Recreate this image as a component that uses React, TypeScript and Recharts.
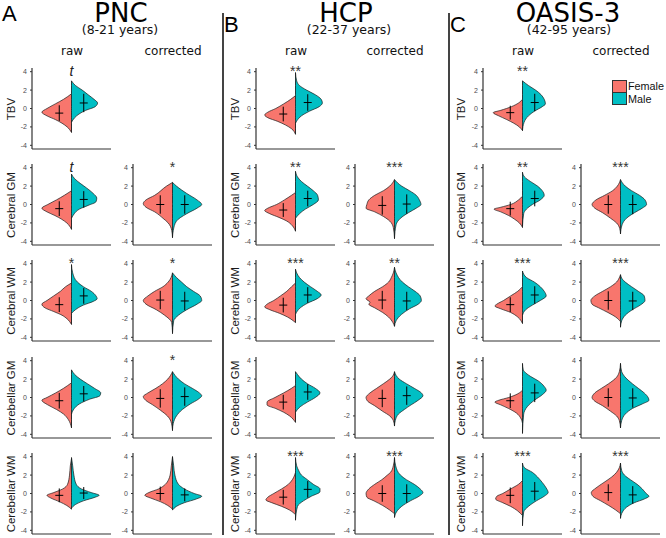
import { ComposedChart, Area, Scatter, ErrorBar, XAxis, YAxis } from "recharts";

type Pt = [number, number]; // [standardised value, density half-width]

const regions = ["TBV", "Cerebral GM", "Cerebral WM", "Cerebellar GM", "Cerebellar WM"];
const cohorts = ["PNC", "HCP", "OASIS-3"];
const ageRanges = ["(8-21 years)", "(22-37 years)", "(42-95 years)"];
const letters = ["A", "B", "C"];
const yTicks = [-4, -2, 0, 2, 4];

// ---- PNC ----
const pncRawFemale: Pt[][] = [
  [[1.6, 0], [1.0, 0.2], [0.5, 0.41], [0, 0.62], [-0.4, 0.75], [-0.8, 0.62], [-1.2, 0.41], [-1.6, 0.24], [-2.0, 0.11], [-2.6, 0]],
  [[1.5, 0], [1.0, 0.18], [0.5, 0.38], [0, 0.6], [-0.4, 0.75], [-0.8, 0.62], [-1.2, 0.42], [-1.6, 0.25], [-2.0, 0.12], [-2.7, 0]],
  [[1.9, 0], [1.5, 0.15], [1, 0.28], [0.5, 0.45], [0, 0.62], [-0.4, 0.75], [-0.8, 0.67], [-1.2, 0.45], [-1.6, 0.24], [-2.0, 0.11], [-2.6, 0]],
  [[1.6, 0], [1.0, 0.2], [0.5, 0.4], [0, 0.62], [-0.3, 0.75], [-0.8, 0.6], [-1.3, 0.38], [-1.8, 0.2], [-2.4, 0.08], [-3.3, 0]],
  [[3.8, 0], [3, 0.03], [2, 0.05], [1, 0.1], [0.5, 0.22], [0.1, 0.45], [-0.2, 0.62], [-0.5, 0.52], [-0.9, 0.3], [-1.3, 0.12], [-1.7, 0]],
];
const pncRawMale: Pt[][] = [
  [[3.0, 0], [2.5, 0.1], [2.0, 0.27], [1.5, 0.42], [1.0, 0.57], [0.6, 0.66], [0.2, 0.6], [-0.2, 0.36], [-0.6, 0.19], [-1.0, 0.08], [-1.5, 0]],
  [[3.3, 0], [2.8, 0.08], [2.3, 0.22], [1.8, 0.38], [1.2, 0.55], [0.7, 0.64], [0.3, 0.62], [-0.1, 0.42], [-0.5, 0.2], [-1.0, 0.07], [-1.5, 0]],
  [[3.9, 0], [3, 0.03], [2, 0.15], [1.5, 0.3], [1, 0.5], [0.5, 0.62], [0.2, 0.65], [-0.1, 0.55], [-0.5, 0.3], [-1.0, 0.1], [-1.4, 0]],
  [[3.0, 0], [2.5, 0.08], [2, 0.22], [1.5, 0.4], [1, 0.58], [0.5, 0.74], [0.2, 0.72], [-0.2, 0.45], [-0.7, 0.2], [-1.2, 0.07], [-1.8, 0]],
  [[3.9, 0], [3, 0.03], [2, 0.06], [1, 0.12], [0.5, 0.25], [0.1, 0.5], [-0.2, 0.7], [-0.4, 0.6], [-0.8, 0.3], [-1.2, 0.1], [-1.6, 0]],
];
const pncCorrFemale: (Pt[] | null)[] = [
  null,
  [[2.4, 0], [2, 0.15], [1, 0.45], [0.5, 0.67], [0.1, 0.74], [-0.3, 0.67], [-0.8, 0.45], [-1.5, 0.24], [-2.0, 0.11], [-2.8, 0.02], [-3.6, 0]],
  [[3.0, 0], [2, 0.11], [1.5, 0.24], [1, 0.45], [0.5, 0.62], [0, 0.74], [-0.4, 0.67], [-1, 0.41], [-1.6, 0.2], [-2.4, 0.02], [-3.5, 0]],
  [[2.8, 0], [2, 0.12], [1.5, 0.25], [1, 0.42], [0.5, 0.62], [0.1, 0.74], [-0.3, 0.68], [-0.8, 0.5], [-1.4, 0.3], [-2, 0.13], [-2.6, 0.04], [-3.6, 0]],
  [[4, 0], [3, 0.03], [2, 0.06], [1.5, 0.1], [1, 0.18], [0.5, 0.35], [0.1, 0.6], [-0.2, 0.7], [-0.5, 0.55], [-0.9, 0.3], [-1.3, 0.12], [-1.7, 0]],
];
const pncCorrMale: (Pt[] | null)[] = [
  null,
  [[2.4, 0], [2, 0.1], [1.2, 0.36], [0.5, 0.62], [0, 0.74], [-0.4, 0.62], [-1, 0.36], [-1.8, 0.1], [-2.8, 0.02], [-3.6, 0]],
  [[3.0, 0], [2.5, 0.1], [2, 0.23], [1.5, 0.36], [1, 0.53], [0.5, 0.7], [0, 0.74], [-0.4, 0.62], [-1, 0.36], [-1.6, 0.15], [-2.2, 0.03], [-3.6, 0]],
  [[2.8, 0], [2, 0.15], [1.5, 0.3], [1, 0.5], [0.5, 0.68], [0.2, 0.74], [-0.2, 0.65], [-0.7, 0.45], [-1.3, 0.25], [-2, 0.1], [-2.8, 0.02], [-3.5, 0]],
  [[4, 0], [3, 0.03], [2, 0.06], [1, 0.15], [0.5, 0.3], [0, 0.55], [-0.3, 0.74], [-0.6, 0.6], [-1, 0.3], [-1.4, 0.1], [-1.8, 0]],
];

// ---- HCP ----
const hcpRawFemale: Pt[][] = [
  [[1.4, 0], [1, 0.12], [0.5, 0.3], [0, 0.5], [-0.4, 0.7], [-0.7, 0.78], [-1.0, 0.7], [-1.4, 0.45], [-1.8, 0.25], [-2.2, 0.1], [-2.8, 0]],
  [[1.3, 0], [1, 0.1], [0.5, 0.28], [0, 0.48], [-0.4, 0.7], [-0.65, 0.78], [-1.0, 0.65], [-1.4, 0.42], [-1.8, 0.22], [-2.3, 0.08], [-2.9, 0]],
  [[1.9, 0], [1.5, 0.1], [1, 0.22], [0.5, 0.38], [0, 0.55], [-0.4, 0.72], [-0.7, 0.78], [-1.0, 0.65], [-1.4, 0.4], [-1.8, 0.2], [-2.4, 0]],
  [[1.3, 0], [1, 0.1], [0.5, 0.3], [0, 0.52], [-0.5, 0.72], [-0.8, 0.72], [-1.2, 0.5], [-1.6, 0.3], [-2, 0.15], [-2.7, 0]],
  [[2.3, 0], [1.5, 0.08], [1, 0.18], [0.5, 0.35], [0, 0.55], [-0.4, 0.7], [-0.7, 0.75], [-1.0, 0.6], [-1.4, 0.35], [-1.8, 0.15], [-2.3, 0]],
];
const hcpRawMale: Pt[][] = [
  [[3.9, 0], [3, 0.03], [2.5, 0.1], [2, 0.28], [1.5, 0.5], [1, 0.65], [0.6, 0.68], [0.2, 0.6], [-0.3, 0.35], [-0.8, 0.15], [-1.3, 0.04], [-1.6, 0]],
  [[3.6, 0], [3, 0.05], [2.5, 0.15], [2, 0.3], [1.5, 0.45], [1, 0.56], [0.5, 0.58], [0, 0.45], [-0.5, 0.25], [-1, 0.1], [-1.5, 0]],
  [[3.4, 0], [3, 0.03], [2.5, 0.1], [2, 0.22], [1.5, 0.38], [1, 0.55], [0.6, 0.65], [0.2, 0.55], [-0.3, 0.3], [-0.8, 0.12], [-1.5, 0]],
  [[2.8, 0], [2.5, 0.05], [2, 0.15], [1.5, 0.3], [1, 0.5], [0.5, 0.62], [0, 0.5], [-0.5, 0.3], [-1, 0.12], [-1.6, 0]],
  [[3.9, 0], [3, 0.03], [2.5, 0.08], [2, 0.15], [1.5, 0.3], [1, 0.45], [0.5, 0.62], [0.2, 0.62], [-0.3, 0.4], [-0.8, 0.2], [-1.4, 0.05], [-2.9, 0]],
];
const hcpCorrFemale: (Pt[] | null)[] = [
  null,
  [[2.7, 0], [2, 0.12], [1.5, 0.28], [1, 0.5], [0.5, 0.65], [0, 0.7], [-0.4, 0.72], [-0.8, 0.5], [-1.3, 0.28], [-1.8, 0.12], [-2.5, 0.03], [-3.7, 0]],
  [[3.6, 0], [3, 0.03], [2.5, 0.08], [2, 0.15], [1.5, 0.3], [1, 0.5], [0.5, 0.65], [0.2, 0.72], [-0.2, 0.62], [-0.4, 0.65], [-0.8, 0.5], [-1.3, 0.3], [-1.8, 0.15], [-2.4, 0.04], [-2.8, 0]],
  [[2.8, 0], [2.3, 0.05], [2, 0.12], [1.5, 0.28], [1, 0.45], [0.5, 0.62], [0, 0.72], [-0.4, 0.68], [-0.9, 0.5], [-1.5, 0.3], [-2, 0.12], [-2.5, 0.03], [-3.1, 0]],
  [[3.9, 0], [3, 0.03], [2.3, 0.1], [2, 0.18], [1.5, 0.32], [1, 0.5], [0.5, 0.65], [0, 0.72], [-0.4, 0.7], [-0.8, 0.52], [-1.3, 0.3], [-1.8, 0.12], [-2.2, 0]],
];
const hcpCorrMale: (Pt[] | null)[] = [
  null,
  [[2.7, 0], [2, 0.18], [1.5, 0.38], [1, 0.55], [0.5, 0.63], [0, 0.67], [-0.4, 0.55], [-0.9, 0.35], [-1.5, 0.15], [-2.2, 0.04], [-3.7, 0]],
  [[3.6, 0], [3, 0.04], [2, 0.2], [1.5, 0.35], [1, 0.52], [0.5, 0.65], [0, 0.68], [-0.4, 0.6], [-0.9, 0.38], [-1.5, 0.18], [-2.2, 0.04], [-2.8, 0]],
  [[2.8, 0], [2, 0.12], [1.5, 0.3], [1, 0.5], [0.5, 0.68], [0.2, 0.72], [-0.3, 0.6], [-0.8, 0.42], [-1.3, 0.25], [-1.8, 0.1], [-2.5, 0.02], [-3.1, 0]],
  [[3.9, 0], [3, 0.03], [2, 0.15], [1.5, 0.3], [1, 0.5], [0.5, 0.65], [0.1, 0.72], [-0.3, 0.62], [-0.8, 0.4], [-1.4, 0.18], [-2, 0.05], [-2.6, 0]],
];

// ---- OASIS-3 ----
const oasisRawFemale: Pt[][] = [
  [[1.0, 0], [0.6, 0.1], [0.2, 0.28], [-0.2, 0.55], [-0.45, 0.74], [-0.8, 0.6], [-1.2, 0.4], [-1.6, 0.22], [-2, 0.08], [-2.4, 0]],
  [[0.9, 0], [0.5, 0.1], [0, 0.3], [-0.3, 0.55], [-0.5, 0.72], [-0.8, 0.55], [-1.2, 0.35], [-1.6, 0.2], [-2, 0.08], [-2.5, 0]],
  [[1.5, 0], [1, 0.12], [0.5, 0.3], [0, 0.48], [-0.4, 0.65], [-0.6, 0.7], [-0.9, 0.55], [-1.3, 0.3], [-1.8, 0.12], [-2.5, 0]],
  [[0.8, 0], [0.4, 0.12], [0, 0.35], [-0.3, 0.6], [-0.5, 0.7], [-0.8, 0.55], [-1.2, 0.35], [-1.7, 0.15], [-2.2, 0.05], [-2.8, 0]],
  [[1.4, 0], [1, 0.1], [0.5, 0.3], [0, 0.5], [-0.3, 0.65], [-0.6, 0.68], [-1, 0.5], [-1.4, 0.3], [-1.9, 0.12], [-2.4, 0]],
];
const oasisRawMale: Pt[][] = [
  [[3, 0], [2.5, 0.15], [2, 0.33], [1.5, 0.47], [1, 0.55], [0.5, 0.58], [0.2, 0.5], [-0.3, 0.3], [-0.8, 0.15], [-1.5, 0.04], [-2.4, 0]],
  [[3.5, 0], [3, 0.05], [2.5, 0.2], [2, 0.38], [1.5, 0.5], [1, 0.55], [0.5, 0.45], [0, 0.25], [-0.5, 0.1], [-1, 0.03], [-2.4, 0]],
  [[3.2, 0], [2.5, 0.1], [2, 0.3], [1.5, 0.45], [1, 0.55], [0.5, 0.6], [0, 0.45], [-0.5, 0.25], [-1, 0.08], [-1.6, 0]],
  [[3.7, 0], [3, 0.02], [2.8, 0.05], [2.3, 0.2], [1.8, 0.4], [1.2, 0.55], [0.8, 0.6], [0.3, 0.5], [-0.3, 0.3], [-1, 0.12], [-1.8, 0.03], [-3.9, 0]],
  [[3.3, 0], [2.8, 0.05], [2.3, 0.25], [1.8, 0.38], [1.2, 0.5], [0.6, 0.6], [0.1, 0.65], [-0.3, 0.55], [-0.8, 0.35], [-1.4, 0.15], [-2, 0.03], [-3.5, 0]],
];
const oasisCorrFemale: (Pt[] | null)[] = [
  null,
  [[2.7, 0], [2, 0.08], [1.5, 0.2], [1, 0.4], [0.5, 0.62], [0, 0.72], [-0.4, 0.65], [-0.9, 0.45], [-1.5, 0.25], [-2, 0.1], [-2.6, 0.02], [-3.2, 0]],
  [[2.8, 0], [2.3, 0.05], [2, 0.1], [1.5, 0.25], [1, 0.45], [0.5, 0.65], [0, 0.75], [-0.4, 0.72], [-0.8, 0.55], [-1.3, 0.32], [-1.8, 0.12], [-2.3, 0]],
  [[3.7, 0], [2.8, 0.03], [2.2, 0.1], [1.5, 0.3], [1, 0.48], [0.5, 0.65], [0, 0.72], [-0.4, 0.65], [-0.9, 0.45], [-1.5, 0.25], [-2, 0.1], [-2.5, 0.03], [-3.3, 0]],
  [[3.3, 0], [2.8, 0.03], [2.3, 0.1], [1.8, 0.22], [1.2, 0.42], [0.6, 0.62], [0.1, 0.74], [-0.3, 0.7], [-0.8, 0.5], [-1.3, 0.3], [-1.8, 0.12], [-2.2, 0]],
];
const oasisCorrMale: (Pt[] | null)[] = [
  null,
  [[2.7, 0], [2, 0.12], [1.5, 0.28], [1, 0.48], [0.5, 0.62], [0, 0.66], [-0.4, 0.55], [-0.9, 0.35], [-1.5, 0.15], [-2.2, 0.04], [-3.2, 0]],
  [[2.8, 0], [2.3, 0.05], [2, 0.12], [1.5, 0.28], [1, 0.45], [0.5, 0.6], [0, 0.62], [-0.5, 0.5], [-1, 0.3], [-1.6, 0.12], [-2.2, 0.03], [-2.9, 0]],
  [[3.7, 0], [2.8, 0.03], [2.3, 0.1], [1.5, 0.3], [1, 0.45], [0.5, 0.6], [0, 0.7], [-0.3, 0.72], [-0.7, 0.55], [-1.2, 0.3], [-1.8, 0.12], [-2.5, 0.03], [-3.3, 0]],
  [[3.3, 0], [2.5, 0.03], [2, 0.1], [1.5, 0.25], [1, 0.42], [0.5, 0.55], [0, 0.65], [-0.3, 0.72], [-0.6, 0.6], [-1, 0.35], [-1.5, 0.15], [-2, 0.05], [-2.7, 0]],
];

// means and SDs (cross marks), per region
const pncRawFemaleMean = [-0.5, -0.45, -0.45, -0.35, -0.2];
const pncRawFemaleSd = [0.85, 0.8, 0.8, 0.85, 0.75];
const pncRawMaleMean = [0.6, 0.55, 0.5, 0.4, 0.05];
const pncRawMaleSd = [1.0, 0.9, 0.85, 0.85, 0.65];
const pncCorrFemaleMean = [0, 0, 0.05, -0.1, 0];
const pncCorrFemaleSd = [0, 1.0, 1.0, 1.0, 0.75];
const pncCorrMaleMean = [0, 0, -0.05, 0.1, -0.15];
const pncCorrMaleSd = [0, 1.0, 1.0, 1.0, 0.7];

const hcpRawFemaleMean = [-0.6, -0.6, -0.5, -0.5, -0.4];
const hcpRawFemaleSd = [0.8, 0.75, 0.8, 0.8, 0.8];
const hcpRawMaleMean = [0.65, 0.65, 0.6, 0.6, 0.45];
const hcpRawMaleSd = [0.9, 0.85, 0.85, 0.85, 0.9];
const hcpCorrFemaleMean = [0, -0.1, 0.05, -0.1, 0];
const hcpCorrFemaleSd = [0, 1.0, 1.0, 0.95, 0.9];
const hcpCorrMaleMean = [0, 0.05, -0.05, 0.2, 0];
const hcpCorrMaleSd = [0, 1.05, 1.0, 1.0, 1.0];

const oasisRawFemaleMean = [-0.45, -0.45, -0.45, -0.35, -0.2];
const oasisRawFemaleSd = [0.75, 0.75, 0.8, 0.8, 0.85];
const oasisRawMaleMean = [0.65, 0.65, 0.6, 0.5, 0.25];
const oasisRawMaleSd = [0.95, 0.85, 0.95, 1.0, 1.0];
const oasisCorrFemaleMean = [0, 0, 0, 0, 0.1];
const oasisCorrFemaleSd = [0, 1.0, 1.0, 1.0, 0.9];
const oasisCorrMaleMean = [0, 0, -0.05, -0.05, -0.15];
const oasisCorrMaleSd = [0, 1.05, 1.0, 1.05, 0.95];

// significance markers
const pncRawSig = ["t", "t", "*", "", ""];
const pncCorrSig = ["", "*", "*", "*", ""];
const hcpRawSig = ["**", "**", "***", "", "***"];
const hcpCorrSig = ["", "***", "**", "", "***"];
const oasisRawSig = ["**", "**", "***", "", "***"];
const oasisCorrSig = ["", "***", "***", "", "***"];

const FEMALE = "#F8766D";
const MALE = "#00BFC4";
const DODGE = 0.31;

// layout
const rowTop = [72, 168, 264, 361, 457]; // pixel y of the "4" tick
const axisX = [
  [32, 133],
  [256, 355],
  [483, 581],
];
const titleX = [121, 346, 568];
const subX = [120, 349, 569];
const letterPos = [
  [2, 3],
  [224, 14],
  [450, 14],
];
const ylabX = [11, 235, 461];

const cohortData = [
  {
    raw: { f: pncRawFemale, m: pncRawMale, fm: pncRawFemaleMean, fs: pncRawFemaleSd, mm: pncRawMaleMean, ms: pncRawMaleSd, sig: pncRawSig },
    corr: { f: pncCorrFemale, m: pncCorrMale, fm: pncCorrFemaleMean, fs: pncCorrFemaleSd, mm: pncCorrMaleMean, ms: pncCorrMaleSd, sig: pncCorrSig },
  },
  {
    raw: { f: hcpRawFemale, m: hcpRawMale, fm: hcpRawFemaleMean, fs: hcpRawFemaleSd, mm: hcpRawMaleMean, ms: hcpRawMaleSd, sig: hcpRawSig },
    corr: { f: hcpCorrFemale, m: hcpCorrMale, fm: hcpCorrFemaleMean, fs: hcpCorrFemaleSd, mm: hcpCorrMaleMean, ms: hcpCorrMaleSd, sig: hcpCorrSig },
  },
  {
    raw: { f: oasisRawFemale, m: oasisRawMale, fm: oasisRawFemaleMean, fs: oasisRawFemaleSd, mm: oasisRawMaleMean, ms: oasisRawMaleSd, sig: oasisRawSig },
    corr: { f: oasisCorrFemale, m: oasisCorrMale, fm: oasisCorrFemaleMean, fs: oasisCorrFemaleSd, mm: oasisCorrMaleMean, ms: oasisCorrMaleSd, sig: oasisCorrSig },
  },
];

// both halves share one row table; the outline is the upper value, the centre line the lower one
function buildRows(female: Pt[], male: Pt[]) {
  const map = new Map<number, any>();
  female.forEach(([y, w]) => map.set(y, { ...(map.get(y) || { y }), f: [0, -w] }));
  male.forEach(([y, w]) => map.set(y, { ...(map.get(y) || { y }), m: [0, w] }));
  return [...map.values()].sort((a, b) => b.y - a.y);
}

const MeanTick = (props: any) => {
  const { cx, cy } = props;
  if (cx == null || cy == null) return null;
  return <line x1={cx - 4} x2={cx + 4} y1={cy} y2={cy} stroke="#000" strokeWidth={1} />;
};

const CHART_W = 99;
const CHART_H = 84;
const Y_AXIS_W = 20;

function SplitViolin(props: { female: Pt[]; male: Pt[]; fMean: number; fSd: number; mMean: number; mSd: number }) {
  const rows = buildRows(props.female, props.male);
  const stats = [
    { x: -DODGE, y: props.fMean, sd: props.fSd },
    { x: DODGE, y: props.mMean, sd: props.mSd },
  ];
  return (
    <ComposedChart
      width={CHART_W}
      height={CHART_H}
      layout="vertical"
      data={rows}
      margin={{ top: 2, right: 0, bottom: 0, left: 0 }}
      style={{ fontFamily: "Liberation Sans, Arial, sans-serif" }}
    >
      <XAxis type="number" dataKey="x" domain={[-1, 1]} tick={false} tickLine={false} height={1} axisLine={{ stroke: "#333", strokeWidth: 1.2 }} allowDataOverflow />
      <YAxis
        type="number"
        dataKey="y"
        domain={[-4.4, 4.4]}
        reversed
        ticks={yTicks}
        width={Y_AXIS_W}
        tick={{ fontSize: 7, fill: "#4d4d4d" }}
        tickSize={2}
        tickMargin={3}
        axisLine={{ stroke: "#333", strokeWidth: 1.2 }}
        tickLine={{ stroke: "#333" }}
        allowDataOverflow
      />
      <Area dataKey="f" type="monotone" fill={FEMALE} fillOpacity={1} stroke="#1a1a1a" strokeWidth={0.7} connectNulls dot={false} activeDot={false} isAnimationActive={false} />
      <Area dataKey="m" type="monotone" fill={MALE} fillOpacity={1} stroke="#1a1a1a" strokeWidth={0.7} connectNulls dot={false} activeDot={false} isAnimationActive={false} />
      <Scatter data={stats} shape={MeanTick} isAnimationActive={false}>
        <ErrorBar dataKey="sd" direction="y" width={0} stroke="#000" strokeWidth={1} />
      </Scatter>
    </ComposedChart>
  );
}

const centered = (x: number, y: number): React.CSSProperties => ({
  position: "absolute",
  left: x,
  top: y,
  transform: "translateX(-50%)",
  whiteSpace: "nowrap",
});

export default function App() {
  const plots: React.ReactNode[] = [];
  const labels: React.ReactNode[] = [];

  cohortData.forEach((c, ci) => {
    (["raw", "corr"] as const).forEach((kind, ki) => {
      const d = c[kind];
      regions.forEach((_, ri) => {
        const fem = d.f[ri];
        const mal = d.m[ri];
        if (!fem || !mal) return;
        const ax = axisX[ci][ki];
        const top = rowTop[ri] - 0.4 * (81 / 8.8) - 2;
        plots.push(
          <div key={`p${ci}${ki}${ri}`} style={{ position: "absolute", left: ax - Y_AXIS_W, top }}>
            <SplitViolin female={fem} male={mal} fMean={d.fm[ri]} fSd={d.fs[ri]} mMean={d.mm[ri]} mSd={d.ms[ri]} />
          </div>
        );
        const s = d.sig[ri];
        if (s) {
          labels.push(
            <div
              key={`s${ci}${ki}${ri}`}
              style={{
                ...centered(ax + 39.5, rowTop[ri] - 8),
                fontSize: 14,
                lineHeight: "14px",
                color: s === "t" ? "#222" : "#333",
                fontStyle: s === "t" ? "italic" : "normal",
                fontFamily: "Liberation Sans, Arial, sans-serif",
              }}
            >
              {s}
            </div>
          );
        }
      });
    });
    regions.forEach((r, ri) => {
      labels.push(
        <div
          key={`y${ci}${ri}`}
          style={{
            position: "absolute",
            left: ylabX[ci],
            top: rowTop[ri] + 37,
            transform: "translate(-50%, -50%) rotate(-90deg)",
            whiteSpace: "nowrap",
            fontSize: 11.5,
            lineHeight: "13px",
            color: "#1a1a1a",
            fontFamily: "Liberation Sans, Arial, sans-serif",
          }}
        >
          {r}
        </div>
      );
    });
  });

  return (
    <div style={{ position: "absolute", left: 0, top: 0, width: 666, height: 538, background: "#fff", overflow: "hidden", fontFamily: "DejaVu Sans, sans-serif" }}>
      {cohorts.map((name, ci) => (
        <div key={name}>
          <div style={{ position: "absolute", left: letterPos[ci][0], top: letterPos[ci][1], fontSize: 22, lineHeight: "22px", fontFamily: "Liberation Sans, Arial, sans-serif", color: "#000" }}>
            {letters[ci]}
          </div>
          <div style={{ ...centered(titleX[ci], 3), fontSize: 26, lineHeight: "20px", color: "#000" }}>{name}</div>
          <div style={{ ...centered(subX[ci], 24), fontSize: 12.5, lineHeight: "12px", color: "#111" }}>{ageRanges[ci]}</div>
          <div style={{ ...centered(axisX[ci][0] + 40, 45), fontSize: 12, lineHeight: "12px", color: "#111" }}>raw</div>
          <div style={{ ...centered(axisX[ci][1] + 40, 45), fontSize: 12, lineHeight: "12px", color: "#111" }}>corrected</div>
        </div>
      ))}
      <div style={{ position: "absolute", left: 222, top: 13, width: 2, height: 522, background: "#444" }} />
      <div style={{ position: "absolute", left: 448, top: 13, width: 2, height: 522, background: "#444" }} />
      {plots}
      {labels}
      <div style={{ position: "absolute", left: 612, top: 80, width: 13, height: 11, background: FEMALE, border: "1px solid #333" }} />
      <div style={{ position: "absolute", left: 612, top: 92, width: 13, height: 11, background: MALE, border: "1px solid #333" }} />
      <div style={{ position: "absolute", left: 628, top: 80, fontSize: 10.8, lineHeight: "13px", fontFamily: "Liberation Sans, Arial, sans-serif", color: "#111" }}>Female</div>
      <div style={{ position: "absolute", left: 628, top: 93, fontSize: 10.8, lineHeight: "13px", fontFamily: "Liberation Sans, Arial, sans-serif", color: "#111" }}>Male</div>
    </div>
  );
}
